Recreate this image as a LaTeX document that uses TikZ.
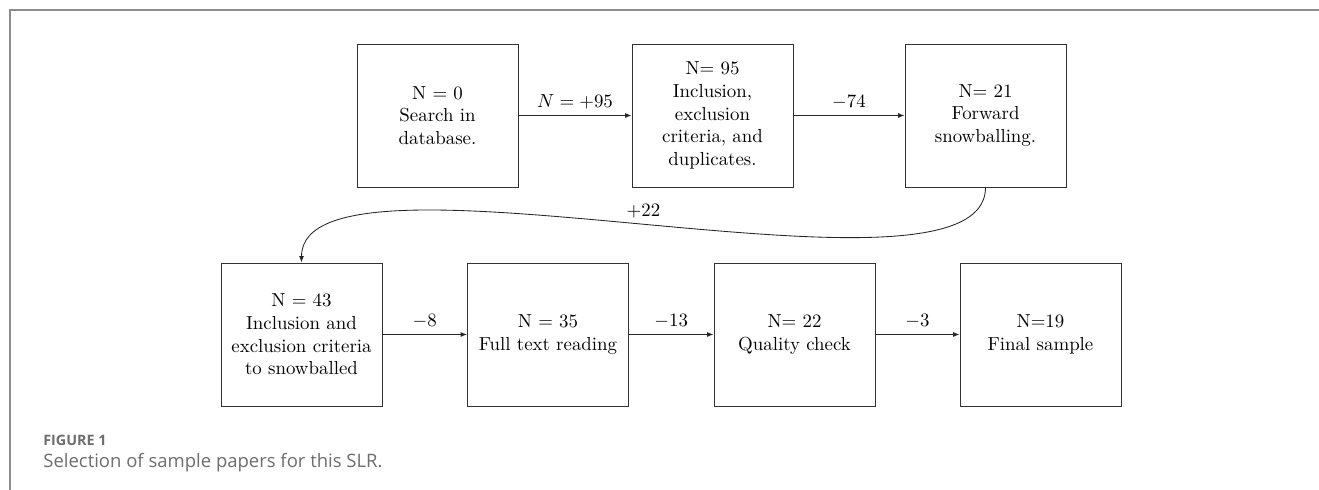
\documentclass[tikz,border=0pt]{standalone}
\usepackage{fontspec}
\newfontfamily\capfont{Open Sans}
\usetikzlibrary{arrows.meta}
\definecolor{framegray}{HTML}{8C8C8C}
\definecolor{capgray}{HTML}{6E6E6E}
\begin{document}
\begin{tikzpicture}[x=0.53pt,y=0.53pt,
  stagebox/.style={draw=black!80, line width=0.5pt, minimum width=85.3pt, minimum height=75.8pt,
    inner sep=0pt, align=center, font=\fontsize{10}{12}\selectfont},
  flow/.style={draw=black!85, line width=0.45pt, -{Latex[length=3.4pt,width=2.6pt]}},
  flowlabel/.style={above, font=\fontsize{10}{12}\selectfont},
  frameline/.style={draw=framegray, line width=1.1pt},
  capfig/.style={anchor=base west, inner sep=0pt, text=capgray, font=\capfont\bfseries\fontsize{7.6}{9}\selectfont},
  captext/.style={anchor=base west, inner sep=0pt, text=capgray, font=\capfont\fontsize{9.8}{12}\selectfont}]
\useasboundingbox (0,0) rectangle (1319,490);
\fill[white] (0,0) rectangle (1319,490);
\draw[frameline] (10,0) -- (10,480) -- (1319,480);

\node[stagebox] (b1) at (437.5,374.5) {N = 0\\Search in\\database.};
\node[stagebox] (b2) at (712.5,374.5) {N= 95\\Inclusion,\\exclusion\\criteria, and\\duplicates.};
\node[stagebox] (b3) at (985.5,374.5) {N= 21\\Forward\\snowballing.};
\node[stagebox] (b4) at (301.5,155.5) {N = 43\\Inclusion and\\exclusion criteria\\to snowballed};
\node[stagebox] (b5) at (548,155.5) {N = 35\\Full text reading};
\node[stagebox] (b6) at (794.5,155.5) {N= 22\\Quality check};
\node[stagebox] (b7) at (1040.5,155.5) {N=19\\Final sample};

\draw[flow] (b1) -- node[flowlabel] {$N=+95$} (b2);
\draw[flow] (b2) -- node[flowlabel] {$-74$} (b3);
\draw[flow] (b3.south) .. controls +(0,-135) and +(0,135) .. node[flowlabel,pos=0.5] {$+22$} (b4.north);
\draw[flow] (b4) -- node[flowlabel] {$-8$} (b5);
\draw[flow] (b5) -- node[flowlabel] {$-13$} (b6);
\draw[flow] (b6) -- node[flowlabel] {$-3$} (b7);

\node[capfig] (fig) at (43,44.7) {FIGURE 1};
\node[captext] (cap) at (43,22.7) {Selection of sample papers for this SLR.};
\end{tikzpicture}
\end{document}
